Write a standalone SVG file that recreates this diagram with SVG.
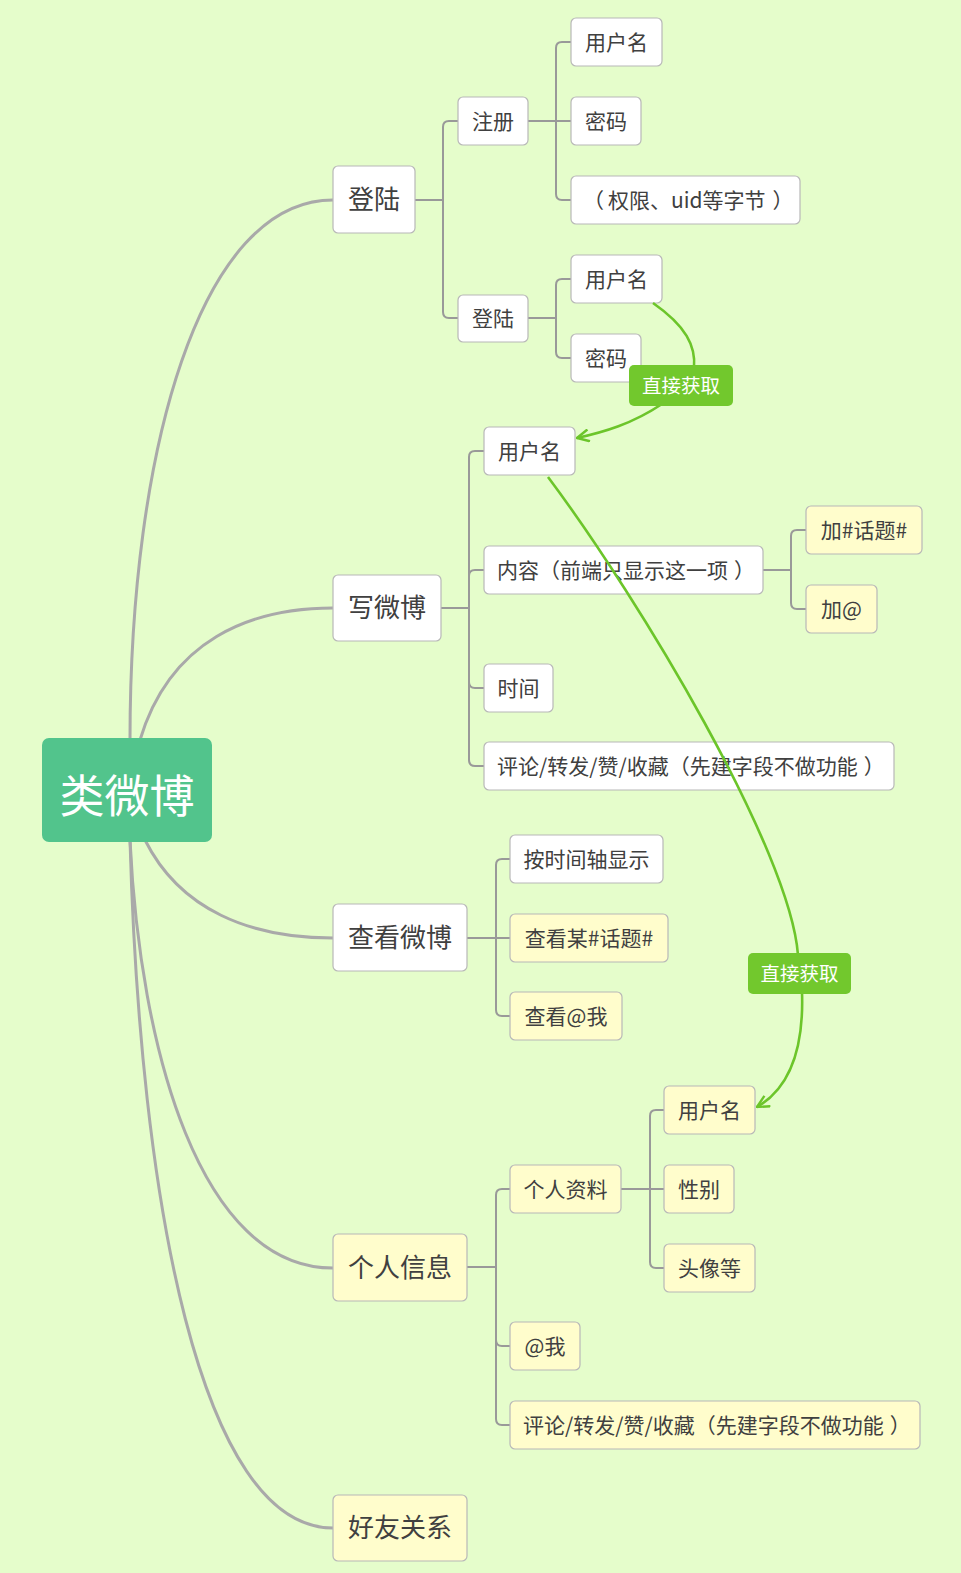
<svg xmlns="http://www.w3.org/2000/svg" width="961" height="1573" viewBox="0 0 961 1573">
<defs>
<style>
.bg{fill:#e5fdcb}
.n rect{fill:#ffffff;stroke:#b8b8b8;stroke-width:1.2}
.y rect{fill:#fffdcc;stroke:#b8b8b8;stroke-width:1.2}
.n text,.y text{font-family:"Noto Sans CJK SC","Noto Sans",sans-serif;fill:#404040;text-anchor:middle}
.n text.s,.y text.s{text-anchor:start}
.t1{font-size:26px}
.t2{font-size:21px}
.main{fill:none;stroke:#a9a9a9;stroke-width:3}
.sub{fill:none;stroke:#999999;stroke-width:2}
.rel{fill:none;stroke:#6cc52a;stroke-width:2.6}
.lbl rect{fill:#72c82d}
.lbl text{font-family:"Noto Sans CJK SC","Noto Sans",sans-serif;font-size:19.5px;fill:#ffffff;text-anchor:middle}
</style>
<marker id="arr" viewBox="0 0 14 14" refX="13" refY="7" markerWidth="14" markerHeight="14" markerUnits="userSpaceOnUse" orient="auto">
<path d="M1,1 L13,7 L1,13" fill="none" stroke="#6cc52a" stroke-width="2.4"/>
</marker>
</defs>
<rect class="bg" x="0" y="0" width="961" height="1573"/>

<g id="connectors">
<path class="main" d="M130,740 C130,450 200,200 333,200"/>
<path class="main" d="M140,740 C170,640 250,608 333,608"/>
<path class="main" d="M145,840 C180,910 250,938 333,938"/>
<path class="main" d="M130,840 C140,1050 200,1268 333,1268"/>
<path class="main" d="M130,840 C140,1200 200,1528 333,1528"/>

<path class="sub" d="M415,200 H443 M443,200 V127 Q443,121 449,121 H458 M443,200 V312 Q443,318 449,318 H458"/>
<path class="sub" d="M528,121 H571 M556,121 V48 Q556,42 562,42 H571 M556,121 V194 Q556,200 562,200 H571"/>
<path class="sub" d="M528,318 H556 M556,318 V285 Q556,279 562,279 H571 M556,318 V352 Q556,358 562,358 H571"/>
<path class="sub" d="M441,608 H469 M469,608 V457 Q469,451 475,451 H484 M469,608 V576 Q469,570 475,570 H484 M469,608 V682 Q469,688 475,688 H484 M469,608 V760 Q469,766 475,766 H484"/>
<path class="sub" d="M763,570 H791 M791,570 V536 Q791,530 797,530 H806 M791,570 V603 Q791,609 797,609 H806"/>
<path class="sub" d="M467,938 H510 M496,938 V865 Q496,859 502,859 H510 M496,938 V1010 Q496,1016 502,1016 H510"/>
<path class="sub" d="M467,1267 H496 M496,1267 V1195 Q496,1189 502,1189 H510 M496,1267 V1340 Q496,1346 502,1346 H510 M496,1267 V1419 Q496,1425 502,1425 H510"/>
<path class="sub" d="M621,1189 H664 M650,1189 V1116 Q650,1110 656,1110 H664 M650,1189 V1262 Q650,1268 656,1268 H664"/>
</g>

<g id="root">
<rect x="42" y="738" width="170" height="104" rx="7" fill="#52c48c"/>
<text x="127" y="813" font-family="Noto Sans CJK SC,Noto Sans,sans-serif" font-size="45" fill="#ffffff" text-anchor="middle">类微博</text>
</g>

<g id="n-denglu" class="n"><rect x="333" y="166" width="82" height="67" rx="5"/><text class="t1" x="374" y="209">登陆</text></g>
<g id="n-xieweibo" class="n"><rect x="333" y="575" width="108" height="66" rx="5"/><text class="t1" x="387" y="617">写微博</text></g>
<g id="n-chakan" class="n"><rect x="333" y="904" width="134" height="67" rx="5"/><text class="t1" x="400" y="947">查看微博</text></g>
<g id="n-geren" class="y"><rect x="333" y="1234" width="134" height="67" rx="5"/><text class="t1" x="400" y="1277">个人信息</text></g>
<g id="n-haoyou" class="y"><rect x="333" y="1495" width="134" height="66" rx="5"/><text class="t1" x="400" y="1537">好友关系</text></g>

<g id="n-zhuce" class="n"><rect x="458" y="97" width="70" height="48" rx="5"/><text class="t2" x="493" y="128.5">注册</text></g>
<g id="n-denglu2" class="n"><rect x="458" y="295" width="70" height="47" rx="5"/><text class="t2" x="493" y="326">登陆</text></g>
<g id="n-zc-user" class="n"><rect x="571" y="18" width="91" height="48" rx="5"/><text class="t2" x="616.5" y="49.5">用户名</text></g>
<g id="n-zc-pwd" class="n"><rect x="571" y="97" width="70" height="48" rx="5"/><text class="t2" x="606" y="128.5">密码</text></g>
<g id="n-zc-qx" class="n"><rect x="571" y="176" width="229" height="48" rx="5"/><text class="t2 s" x="583" y="207.5">（<tspan dx="4">权限、uid等字节</tspan><tspan dx="7">）</tspan></text></g>
<g id="n-dl-user" class="n"><rect x="571" y="255" width="91" height="48" rx="5"/><text class="t2" x="616.5" y="286.5">用户名</text></g>
<g id="n-dl-pwd" class="n"><rect x="571" y="334" width="70" height="48" rx="5"/><text class="t2" x="606" y="365.5">密码</text></g>

<g id="n-xie-user" class="n"><rect x="484" y="427" width="91" height="48" rx="5"/><text class="t2" x="529.5" y="458.5">用户名</text></g>
<g id="n-xie-content" class="n"><rect x="484" y="546" width="279" height="48" rx="5"/><text class="t2 s" x="497" y="577.5">内容（前端只显示这一项<tspan dx="6">）</tspan></text></g>
<g id="n-xie-time" class="n"><rect x="484" y="664" width="69" height="48" rx="5"/><text class="t2" x="518.5" y="695.5">时间</text></g>
<g id="n-xie-comment" class="n"><rect x="484" y="742" width="410" height="48" rx="5"/><text class="t2 s" x="497" y="773.5">评论/转发/赞/收藏（先建字段不做功能<tspan dx="6">）</tspan></text></g>
<g id="n-topic" class="y"><rect x="806" y="506" width="116" height="48" rx="5"/><text class="t2" x="864" y="537.5">加#话题#</text></g>
<g id="n-at" class="y"><rect x="806" y="585" width="71" height="48" rx="5"/><text class="t2" x="841.5" y="616.5">加@</text></g>

<g id="n-ck-time" class="n"><rect x="510" y="835" width="153" height="48" rx="5"/><text class="t2" x="586.5" y="866.5">按时间轴显示</text></g>
<g id="n-ck-topic" class="y"><rect x="510" y="914" width="158" height="48" rx="5"/><text class="t2" x="589" y="945.5">查看某#话题#</text></g>
<g id="n-ck-at" class="y"><rect x="510" y="992" width="112" height="48" rx="5"/><text class="t2" x="566" y="1023.5">查看@我</text></g>

<g id="n-gr-profile" class="y"><rect x="510" y="1165" width="111" height="48" rx="5"/><text class="t2" x="565.5" y="1196.5">个人资料</text></g>
<g id="n-gr-at" class="y"><rect x="510" y="1322" width="70" height="48" rx="5"/><text class="t2" x="545" y="1353.5">@我</text></g>
<g id="n-gr-comment" class="y"><rect x="510" y="1401" width="410" height="48" rx="5"/><text class="t2 s" x="523" y="1432.5">评论/转发/赞/收藏（先建字段不做功能<tspan dx="6">）</tspan></text></g>
<g id="n-pf-user" class="y"><rect x="664" y="1086" width="91" height="48" rx="5"/><text class="t2" x="709.5" y="1117.5">用户名</text></g>
<g id="n-pf-sex" class="y"><rect x="664" y="1165" width="70" height="48" rx="5"/><text class="t2" x="699" y="1196.5">性别</text></g>
<g id="n-pf-avatar" class="y"><rect x="664" y="1244" width="91" height="48" rx="5"/><text class="t2" x="709.5" y="1275.5">头像等</text></g>

<g id="relations">
<path class="rel" d="M653,303 C686,326 696,346 694,368"/>
<path class="rel" d="M662,404 C632,424 604,432 577,438" marker-end="url(#arr)"/>
<path class="rel" d="M548,477 C640,600 790,850 798,955"/>
<path class="rel" d="M802,992 C804,1050 790,1088 757,1107" marker-end="url(#arr)"/>
</g>
<g id="label-1" class="lbl"><rect x="629" y="365" width="104" height="41" rx="5"/><text x="681" y="392.5">直接获取</text></g>
<g id="label-2" class="lbl"><rect x="748" y="953" width="103" height="41" rx="5"/><text x="799.5" y="980.5">直接获取</text></g>
</svg>
